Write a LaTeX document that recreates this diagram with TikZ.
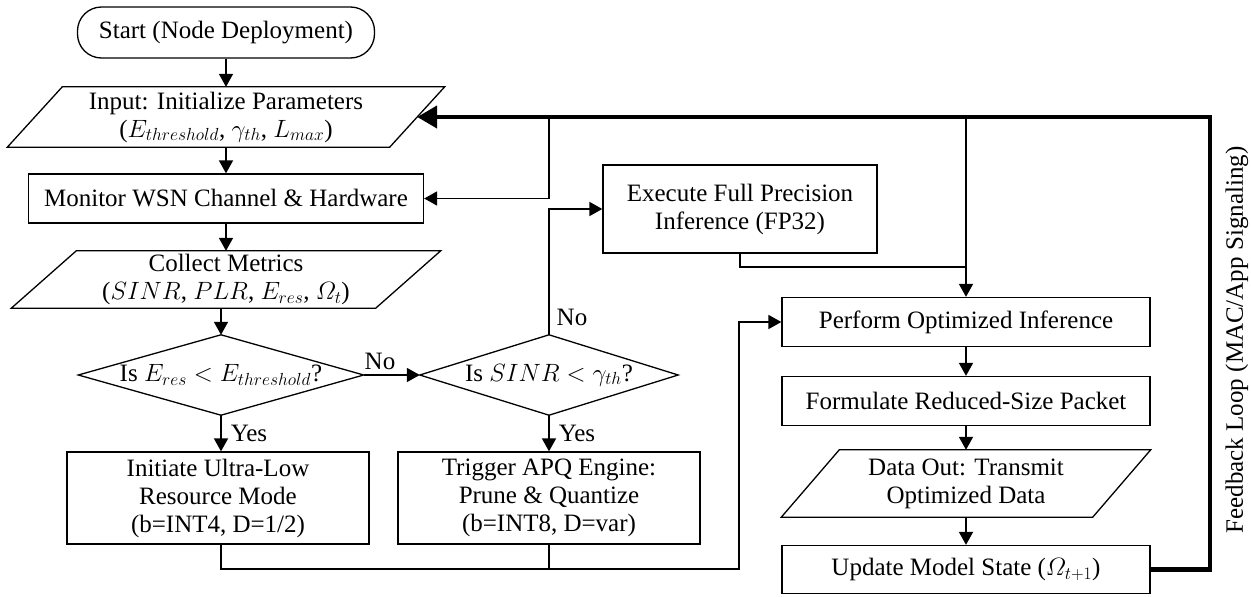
\RequirePackage{fix-cm}
\documentclass[tikz,border=0pt]{standalone}
\usepackage{amsmath}
\usepackage[no-math]{fontspec}
\setmainfont{Liberation Serif}
\usetikzlibrary{arrows.meta}
\newcommand\fs{\fontsize{25}{28}\selectfont}
\tikzset{
  base/.style={font=\fs, align=center, inner sep=0pt},
  box/.style={base, draw, line width=1.3pt},
  term/.style={box, rounded corners=24pt},
  ghost/.style={base, draw=none},
  outline/.style={line width=1.3pt, line join=miter},
  conn/.style={line width=1.8pt},
  arr/.style={conn, -{Triangle[length=13pt,width=14pt]}},
  fb/.style={line width=4.5pt, line join=miter, -{Triangle[length=20pt,width=22pt]}},
  lbl/.style={font=\fs, inner sep=0pt}
}
\begin{document}
\begin{tikzpicture}[x=1pt,y=-1pt]
\useasboundingbox (0,0) rectangle (1251,597);

% ---- left column ----
\node[term, minimum width=297pt, minimum height=51pt] (start) at (226,32.5) {Start (Node Deployment)};
\node[ghost, minimum width=382pt, minimum height=60pt] (inp) at (226,117)
  {Input: Initialize Parameters\\($E_{threshold}$, $\gamma_{th}$, $L_{max}$)};
\node[box, minimum width=395pt, minimum height=49pt] (mon) at (226,198.5) {Monitor WSN Channel \& Hardware};
\node[ghost, minimum width=364pt, minimum height=57pt] (col) at (226,279.5)
  {Collect Metrics\\($SINR$, $PLR$, $E_{res}$, $\varOmega_t$)};
\node[ghost, minimum width=285pt, minimum height=80pt] (d1) at (221,375) {Is $E_{res} < E_{threshold}$?};
\node[ghost, minimum width=258pt, minimum height=80pt] (d2) at (549,375) {Is $SINR < \gamma_{th}$?};
\node[box, minimum width=302pt, minimum height=92pt] (init) at (218,498)
  {Initiate Ultra-Low\\Resource Mode\\(b=INT4, D=1/2)};
\node[box, minimum width=302pt, minimum height=92pt] (trig) at (549,498)
  {Trigger APQ Engine:\\Prune \& Quantize\\(b=INT8, D=var)};

% ---- middle / right column ----
\node[box, minimum width=274pt, minimum height=88pt] (exec) at (740,209)
  {Execute Full Precision\\Inference (FP32)};
\node[box, minimum width=368pt, minimum height=49pt] (perf) at (966,322) {Perform Optimized Inference};
\node[box, minimum width=368pt, minimum height=49pt] (form) at (966,401) {Formulate Reduced-Size Packet};
\node[ghost, minimum width=311pt, minimum height=67pt] (dout) at (966,483.5)
  {Data Out: Transmit\\Optimized Data};
\node[box, minimum width=368pt, minimum height=48pt] (upd) at (966,569.5) {Update Model State ($\varOmega_{t+1}$)};
\node[lbl, rotate=90] (fbl) at (1237,340) {Feedback Loop (MAC/App Signaling)};

% ---- outlines of parallelograms and diamonds ----
\draw[outline] ([xshift=27.5pt]inp.north west) -- ([xshift=27.5pt]inp.north east)
  -- ([xshift=-27.5pt]inp.south east) -- ([xshift=-27.5pt]inp.south west) -- cycle;
\draw[outline] ([xshift=32.5pt]col.north west) -- ([xshift=32.5pt]col.north east)
  -- ([xshift=-32.5pt]col.south east) -- ([xshift=-32.5pt]col.south west) -- cycle;
\draw[outline] ([xshift=29pt]dout.north west) -- ([xshift=29pt]dout.north east)
  -- ([xshift=-29pt]dout.south east) -- ([xshift=-29pt]dout.south west) -- cycle;
\draw[outline] (d1.north) -- (d1.east) -- (d1.south) -- (d1.west) -- cycle;
\draw[outline] (d2.north) -- (d2.east) -- (d2.south) -- (d2.west) -- cycle;

% ---- junction points ----
\coordinate (jn) at (739,569);
\coordinate (ej) at (966,267);
\coordinate (ft) at (966,117);
\coordinate (bt) at (549,117);
\coordinate (fc) at (1210,117);

% ---- connectors ----
\draw[arr] (start.south) -- (inp.north);
\draw[arr] (inp.south) -- (mon.north);
\draw[arr] (mon.south) -- (col.north);
\draw[arr] (col.south -| d1.north) -- (d1.north);
\draw[arr] (d1.east) -- (d2.west);
\draw[arr] (d1.south) -- (d1.south |- init.north);
\draw[arr] (d2.south) -- (trig.north);
\draw[arr] (d2.north) |- (exec.west);
\draw[arr] (init.south -| d1.south) |- (jn) |- (perf.west);
\draw[conn] (trig.south) -- (trig.south |- jn);
\draw[conn] (exec.south) |- (ej);
\draw[arr] (ft) -- (perf.north);
\draw[arr] (bt) |- (mon.east);
\draw[arr] (perf.south) -- (form.north);
\draw[arr] (form.south) -- (dout.north);
\draw[arr] (dout.south) -- (upd.north);
\draw[fb] (upd.east) -| (fc) -- (inp.east);

% ---- branch labels ----
\node[lbl] (no1) at (380,361) {No};
\node[lbl] (no2) at (572,317) {No};
\node[lbl] (yes1) at (249,433) {Yes};
\node[lbl] (yes2) at (577,433) {Yes};
\end{tikzpicture}
\end{document}
